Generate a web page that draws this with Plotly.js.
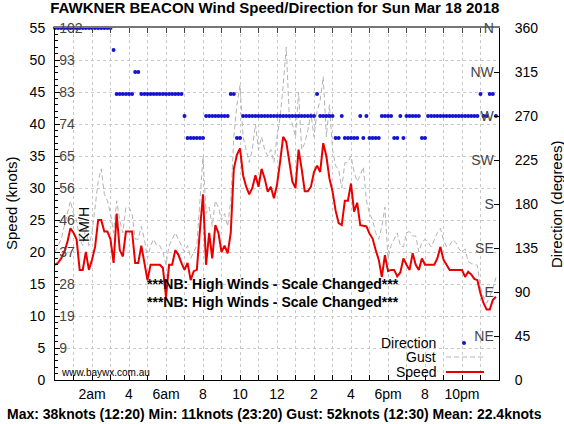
<!DOCTYPE html>
<html>
<head>
<meta charset="utf-8">
<script src="https://cdn.plot.ly/plotly-3.0.1.min.js"></script>
<style>
  html, body { margin: 0; padding: 0; background: #ffffff; }
  #chart { width: 564px; height: 424px; }
</style>
</head>
<body>
<div id="chart"></div>
<script>
// Ten-minute observations, 00:00 to 23:50
const stepMinutes = 10;

const speedKnots = [
  18, 18.3, 19, 20, 21.5, 23.7,
  23, 22, 17.2, 17.2, 20, 17.2,
  18.8, 20.8, 25, 25, 23.2, 23.2,
  22, 18.3, 26, 20.3, 19.3, 23.2,
  23.2, 23.2, 18.3, 18.3, 21, 18.3,
  15.6, 18, 18, 18, 18, 17.5,
  13, 18, 18, 20.3, 19.6, 18.3,
  17.2, 18.3, 15.6, 17, 17.2, 23.4,
  29, 18, 23, 19, 24.2, 23,
  20, 21, 19.8, 23, 33, 35.2,
  36.2, 32, 30.2, 29, 30, 32,
  30.2, 33, 31.5, 29.4, 30.2, 28.4,
  30.5, 34.1, 38, 37.2, 34.1, 31,
  30, 36, 33, 29.5, 29.5, 30.2,
  32.5, 33.5, 32.5, 37, 35, 31.5,
  29.5, 26.5, 24.5, 24.2, 28, 28,
  30.7, 26.3, 27.7, 24.2, 24.1, 24,
  22.9, 22.1, 20.3, 18.8, 16.1, 19.5,
  17, 17.2, 17.2, 16.2, 16.8, 19,
  18, 17.2, 19.8, 18, 17.2, 19,
  18, 18, 18, 18, 19, 20.8,
  18.8, 18, 17.2, 17.2, 17.2, 17.2,
  17.2, 16.1, 16.9, 16.5, 15.8, 15.6,
  13.5, 12, 11, 11, 12.5, 13
];

const gustKnots = [
  20, 21, 22, 24, 26, 28,
  26, 25, 22, 21, 24, 21,
  23, 27, 31, 33, 29, 28,
  26, 23, 28, 25, 23, 27,
  27, 26, 22, 22, 24, 22,
  19, 21, 22, 21, 21, 20,
  18, 21, 22, 23, 22, 21,
  20, 21, 19, 20, 21, 28,
  35, 26, 27, 24, 28, 27,
  25, 26, 24, 28, 38, 43,
  46, 38, 36, 34, 36, 40,
  36, 38, 36, 35, 36, 34,
  38, 41, 46, 52, 41, 40,
  38, 45, 36, 37, 39, 41.7,
  38, 42, 43.7, 47.4, 38, 43,
  36, 33.5, 32.8, 30, 33.9, 34,
  35, 32.5, 31, 32, 33.3, 28,
  26, 25, 23, 22, 24, 27,
  19, 21, 22, 23, 21, 20.8,
  23, 23.2, 22.5, 22.5, 20, 21.5,
  22, 21.5, 20.8, 22, 23, 23.7,
  21.9, 20.8, 21, 21.9, 21.5, 20.5,
  20, 20.5, 18.5, 18.2, 18, 17.9,
  14.5, 13, 12, 13, 14.3, 16
];

const directionDeg = [
  360, 360, 360, 360, 360, 360,
  360, 360, 360, 360, 360, 360,
  360, 360, 360, 360, 360, 360,
  360, 337.5, 292.5, 292.5, 292.5, 292.5,
  292.5, 292.5, 315, 315, 292.5, 292.5,
  292.5, 292.5, 292.5, 292.5, 292.5, 292.5,
  292.5, 292.5, 292.5, 292.5, 292.5, 292.5,
  270, 247.5, 247.5, 247.5, 247.5, 247.5,
  247.5, 270, 270, 270, 270, 270,
  270, 270, 270, 292.5, 292.5, 247.5,
  247.5, 270, 270, 270, 270, 270,
  270, 270, 270, 270, 270, 270,
  270, 270, 270, 270, 270, 270,
  270, 270, 270, 270, 270, 270,
  270, 292.5, 270, 270, 270, 270,
  270, 247.5, 247.5, 270, 247.5, 247.5,
  247.5, 247.5, 247.5, 270, 247.5, 270,
  247.5, 247.5, 247.5, 247.5, 270, 270,
  270, 270, 247.5, 247.5, 270, 247.5,
  270, 270, 270, 270, 270, 247.5,
  247.5, 270, 270, 270, 270, 270,
  270, 270, 270, 270, 270, 270,
  270, 270, 270, 270, 270, 270,
  292.5, 270, 270, 292.5, 292.5, 270
];

const hourTicks = [0,1,2,3,4,5,6,7,8,9,10,11,12,13,14,15,16,17,18,19,20,21,22,23,24];
const hourLabels = ['','','2am','','4','','6am','','8','','10','','12','','2','','4','','6pm','','8','','10pm','',''];
const knotTicks = [0,5,10,15,20,25,30,35,40,45,50,55];
const kmhTicks = [5,10,15,20,25,30,35,40,45,50,55];
const kmhLabels = ['9','19','28','37','46','56','65','74','83','93','102'];
const degreeTicks = [0,45,90,135,180,225,270,315,360];
const compassTicks = [45,90,135,180,225,270,315,360];
const compassLabels = ['NE','E','SE','S','SW','W','NW','N'];

const titleText = 'FAWKNER BEACON Wind Speed/Direction for Sun Mar 18 2018';
const summaryText = 'Max: 38knots (12:20) Min: 11knots (23:20) Gust: 52knots (12:30) Mean: 22.4knots';
const noticeText = '***NB: High Winds - Scale Changed***';

const hours = speedKnots.map((_, i) => i * stepMinutes / 60);

const FONT = 'Liberation Sans, Arial, Helvetica, sans-serif';
const W = 564, H = 424;
const M = { l: 55, r: 65, t: 28, b: 44 };
const plotW = W - M.l - M.r, plotH = H - M.t - M.b;
// pixel -> paper helpers for the overlay texts and legend samples
const px = x => (x - M.l) / plotW;
const py = y => (H - M.b - y) / plotH;

const traces = [
  {
    x: hours, y: gustKnots, type: 'scatter', mode: 'lines', name: 'Gust',
    line: { color: '#b4b4b4', width: 1, dash: '5px,3px' }, xaxis: 'x', yaxis: 'y'
  },
  {
    x: hours, y: speedKnots, type: 'scatter', mode: 'lines', name: 'Speed',
    line: { color: '#e80000', width: 2 }, xaxis: 'x', yaxis: 'y'
  },
  {
    x: hours, y: directionDeg, type: 'scatter', mode: 'markers', name: 'Direction',
    marker: { color: '#1414d2', size: 4 }, cliponaxis: false, xaxis: 'x', yaxis: 'y2'
  },
  // empty traces that bind the top hour scale and the inner KM/H and compass scales
  { x: [null], y: [null], type: 'scatter', mode: 'markers', xaxis: 'x2', yaxis: 'y3', hoverinfo: 'skip' },
  { x: [null], y: [null], type: 'scatter', mode: 'markers', xaxis: 'x', yaxis: 'y4', hoverinfo: 'skip' }
];

const gridColor = '#c8c8c8';
const note = (text, x, y, opts) => Object.assign({
  text, xref: 'paper', yref: 'paper', x: px(x), y: py(y),
  xanchor: 'center', yanchor: 'middle', showarrow: false
}, opts || {});

const layout = {
  width: W, height: H,
  margin: M,
  paper_bgcolor: '#ffffff', plot_bgcolor: '#ffffff',
  showlegend: false,
  font: { family: FONT, size: 14, color: '#000000' },
  title: {
    text: '<b>' + titleText + '</b>',
    font: { family: FONT, size: 15, color: '#000000' },
    x: 0.495, xanchor: 'center', xref: 'paper',
    y: 1 - 8 / H, yanchor: 'middle', yref: 'container'
  },
  xaxis: {
    range: [0, 24], tickmode: 'array', tickvals: hourTicks, ticktext: hourLabels,
    ticks: 'inside', ticklen: 5, tickcolor: '#000',
    showline: true, linecolor: '#000', linewidth: 1,
    showgrid: true, gridcolor: gridColor, griddash: 'dot', gridwidth: 1,
    zeroline: false, tickfont: { size: 14 }, ticklabelstandoff: 1
  },
  xaxis2: {
    overlaying: 'x', anchor: 'y3', side: 'top',
    range: [0, 24], tickmode: 'array', tickvals: hourTicks, showticklabels: false,
    ticks: 'inside', ticklen: 5, tickcolor: '#444',
    showline: true, linecolor: '#777777', linewidth: 2,
    showgrid: false, zeroline: false
  },
  yaxis: {
    range: [0, 55], tickmode: 'array', tickvals: knotTicks,
    ticks: 'inside', ticklen: 5, tickcolor: '#000',
    minor: { dtick: 1, ticks: 'inside', ticklen: 3, tickcolor: '#000', showgrid: false },
    showline: true, linecolor: '#000', linewidth: 1,
    showgrid: true, gridcolor: gridColor, griddash: 'dot', gridwidth: 1,
    zeroline: false, tickfont: { size: 14 }, ticklabelstandoff: 6
  },
  yaxis2: {
    overlaying: 'y', anchor: 'x', side: 'right',
    range: [0, 360], tickmode: 'array', tickvals: degreeTicks,
    ticks: '', showgrid: false, zeroline: false,
    showline: true, linecolor: '#000', linewidth: 1,
    tickfont: { size: 14 }, ticklabelstandoff: 12
  },
  yaxis3: {
    overlaying: 'y', anchor: 'x', side: 'right',
    range: [0, 360], tickmode: 'array', tickvals: compassTicks, ticktext: compassLabels,
    ticklabelposition: 'inside', ticklabeloverflow: 'allow',
    ticks: 'inside', ticklen: 5, tickcolor: '#000',
    showgrid: false, zeroline: false, showline: false, tickfont: { size: 14 }
  },
  yaxis4: {
    overlaying: 'y', anchor: 'x', side: 'left',
    range: [0, 55], tickmode: 'array', tickvals: kmhTicks, ticktext: kmhLabels,
    ticklabelposition: 'inside', ticklabeloverflow: 'allow',
    ticks: 'inside', ticklen: 4, tickcolor: '#000',
    showgrid: false, zeroline: false, showline: false, tickfont: { size: 14 }
  },
  annotations: [
    note('Speed (knots)', 11, 204, { textangle: -90, font: { size: 15 } }),
    note('Direction (degrees)', 556, 204, { textangle: -90, font: { size: 15 } }),
    note('KM/H', 84, 225, { textangle: -90, font: { size: 14 } }),
    note('www.baywx.com.au', 59, 372, { xanchor: 'left', font: { size: 10 } }),
    note('<b>' + noticeText + '</b>', 145, 284, { xanchor: 'left', font: { size: 14 } }),
    note('<b>' + noticeText + '</b>', 145, 302, { xanchor: 'left', font: { size: 14 } }),
    note('<b>' + summaryText + '</b>', 274, 414, { font: { size: 14 } }),
    note('Direction', 438, 343, { xanchor: 'right', font: { size: 14 } }),
    note('Gust', 438, 357, { xanchor: 'right', font: { size: 14 } }),
    note('Speed', 438, 372, { xanchor: 'right', font: { size: 14 } })
  ],
  shapes: [
    { type: 'circle', xref: 'paper', yref: 'paper',
      x0: px(462), x1: px(466), y0: py(345), y1: py(341),
      fillcolor: '#1414d2', line: { width: 0 } },
    { type: 'line', xref: 'paper', yref: 'paper',
      x0: px(446), x1: px(484), y0: py(357), y1: py(357),
      line: { color: '#b4b4b4', width: 1, dash: '5px,3px' } },
    { type: 'line', xref: 'paper', yref: 'paper',
      x0: px(446), x1: px(484), y0: py(372), y1: py(372),
      line: { color: '#e80000', width: 2 } }
  ]
};

Plotly.newPlot('chart', traces, layout, { staticPlot: true, displayModeBar: false });
</script>
</body>
</html>
